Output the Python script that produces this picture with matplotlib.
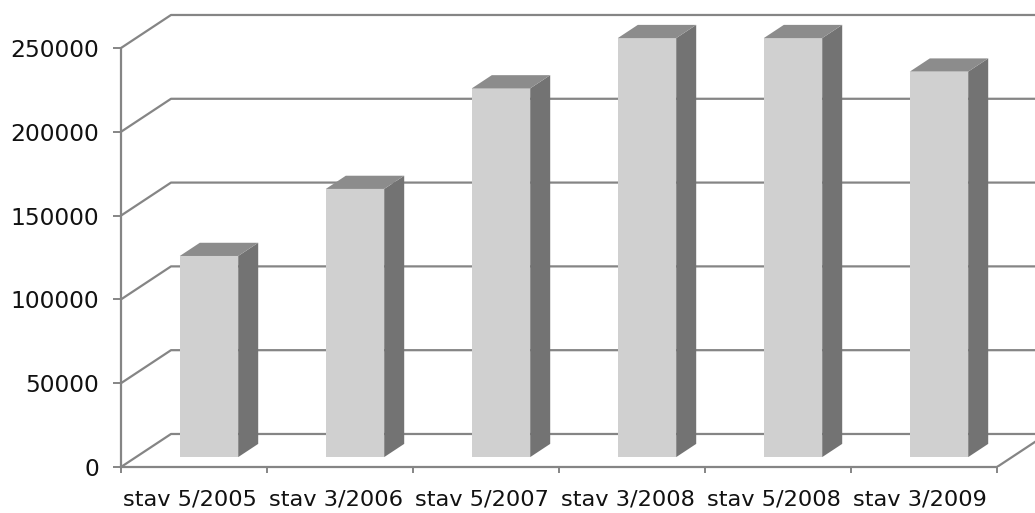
import matplotlib
matplotlib.use("Agg")
import matplotlib.pyplot as plt
from matplotlib.patches import Polygon
from matplotlib.transforms import ScaledTranslation

categories = ["stav 5/2005", "stav 3/2006", "stav 5/2007",
              "stav 3/2008", "stav 5/2008", "stav 3/2009"]
values = [120000, 160000, 220000, 250000, 250000, 230000]
yticks = [0, 50000, 100000, 150000, 200000, 250000]

# fake 3d depth (in data units) and bar placement inside the depth
DX = 0.3425
DY = 19700
D0, D1 = 0.3, 0.7
W = 0.4

GRID = "#858585"
FRONT = "#d0d0d0"
SIDE = "#737373"
TOP = "#8c8c8c"

fig = plt.figure(figsize=(10.35, 5.13), dpi=100)
ax = fig.add_axes([121 / 1035, 46 / 513, 914 / 1035, 467 / 513])
n = len(categories)
ax.set_xlim(0, n + 38 / 146)
ax.set_ylim(0, 467 / 83.8 * 50000)

# walls: diagonal on the left side wall, then horizontal across the back wall
xmax = ax.get_xlim()[1]
for v in yticks:
    ax.plot([0, DX, xmax], [v, v + DY, v + DY], color=GRID, lw=1.6,
            zorder=1, solid_capstyle="butt")
# right edge of the floor
ax.plot([n, n + DX], [0, DY], color=GRID, lw=1.6, zorder=1)

# bars
for i, v in enumerate(values):
    x0 = i + 0.5 - W / 2 + D0 * DX
    x1 = x0 + W
    y0 = D0 * DY
    ddx = (D1 - D0) * DX
    ddy = (D1 - D0) * DY
    front = Polygon([(x0, y0), (x1, y0), (x1, y0 + v), (x0, y0 + v)],
                    closed=True, fc=FRONT, ec="none", zorder=3)
    side = Polygon([(x1, y0), (x1 + ddx, y0 + ddy), (x1 + ddx, y0 + v + ddy),
                    (x1, y0 + v)], closed=True, fc=SIDE, ec="none", zorder=3)
    top = Polygon([(x0, y0 + v), (x1, y0 + v), (x1 + ddx, y0 + v + ddy),
                   (x0 + ddx, y0 + v + ddy)], closed=True, fc=TOP, ec="none",
                  zorder=3)
    for p in (front, side, top):
        ax.add_patch(p)

for s in ("top", "right"):
    ax.spines[s].set_visible(False)
ax.spines["left"].set_bounds(0, 250000)
ax.spines["bottom"].set_bounds(0, n)
for s in ("left", "bottom"):
    ax.spines[s].set_color(GRID)
    ax.spines[s].set_linewidth(1.6)
    ax.spines[s].set_zorder(4)

ax.set_yticks(yticks)
ax.set_yticklabels([str(t) for t in yticks])
ax.set_xticks(range(n + 1))
ax.set_xticklabels([""] * (n + 1))
ax.set_xticks([i + 0.5 for i in range(n)], minor=True)
ax.set_xticklabels(categories, minor=True)
ax.tick_params(axis="y", direction="out", length=6, width=1.4, color=GRID,
               pad=10, labelsize=16.8, labelcolor="#111111")
ax.tick_params(axis="x", which="major", direction="out", length=4.5,
               width=1.4, color=GRID)
ax.tick_params(axis="x", which="minor", length=0, pad=16, labelsize=16.2,
               labelcolor="#111111")
# labels sit a little left of the category centres
shift = ScaledTranslation(-4 / 100, 0, fig.dpi_scale_trans)
for lab in ax.get_xticklabels(minor=True):
    lab.set_transform(lab.get_transform() + shift)

fig.savefig("out.png", dpi=100)
